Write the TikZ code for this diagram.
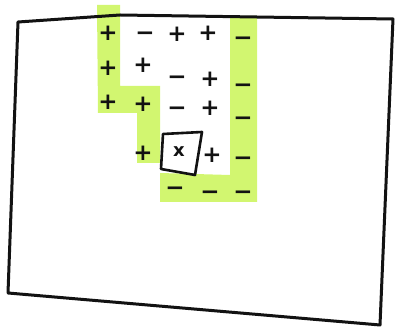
\documentclass[tikz,border=0pt]{standalone}
\usepackage{fontspec}
\newfontfamily\signfont{DejaVu Sans Bold}
\definecolor{ink}{RGB}{18,18,18}
\definecolor{hl}{RGB}{210,246,112}
\begin{document}
\begin{tikzpicture}[x=1pt,y=-1pt,
  sign/.style={font=\signfont\fontsize{23}{23}\selectfont, inner sep=0pt, text=ink, text height=15pt, text depth=0pt},
  xsign/.style={font=\signfont\fontsize{18}{18}\selectfont, inner sep=0pt, text=ink},
  pen/.style={draw=ink, line width=3pt, line join=round, line cap=round}]
\useasboundingbox (0,0) rectangle (397,328);
% highlighter bands
\fill[hl] (97,5) -- (120,5) -- (120,86) -- (160,86) -- (160,163) -- (137,163) -- (137,113) -- (98,113) -- cycle;
\fill[hl] (230,16) -- (257,16) -- (257,202) -- (160,202) -- (160,173) -- (230,175) -- cycle;
% frame
\draw[pen] (18,22) -- (120,15) -- (393,19) -- (380,325) -- (8,293) -- cycle;
% row 1
\node[sign] (a1) at (108,33) {+};
\node[sign] (a2) at (145,33) {−};
\node[sign] (a3) at (177,34) {+};
\node[sign] (a4) at (208,33) {+};
\node[sign] (a5) at (243,38) {−};
% row 2
\node[sign] (b1) at (108,68) {+};
\node[sign] (b2) at (143,65) {+};
\node[sign] (b3) at (177,77) {−};
\node[sign] (b4) at (210,79) {+};
\node[sign] (b5) at (243,85) {−};
% row 3
\node[sign] (c1) at (108,102) {+};
\node[sign] (c2) at (143,104) {+};
\node[sign] (c3) at (177,108) {−};
\node[sign] (c4) at (210,108) {+};
\node[sign] (c5) at (243,118) {−};
% row 4
\node[sign] (d2) at (143,153) {+};
\node[xsign] (d3) at (179,152) {x};
\node[sign] (d4) at (212,155) {+};
\node[sign] (d5) at (243,158) {−};
% row 5
\node[sign] (e3) at (175,188) {−};
\node[sign] (e4) at (210,192) {−};
\node[sign] (e5) at (243,192) {−};
% box round the x
\draw[pen, line width=2.6pt] (163,134) -- (202,132) -- (195,175) -- (161,169) -- cycle;
\end{tikzpicture}
\end{document}
